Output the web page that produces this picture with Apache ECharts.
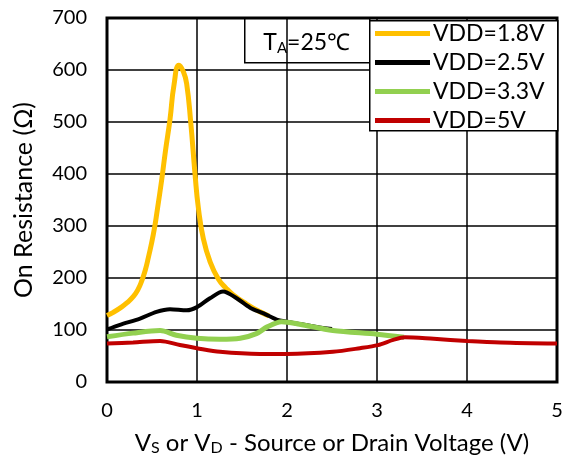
<!DOCTYPE html>
<html>
<head>
<meta charset="utf-8">
<script src="https://cdn.jsdelivr.net/npm/echarts@6/dist/echarts.min.js"></script>
<style>
html,body{margin:0;padding:0;background:#fff;}
#chart{width:569px;height:455px;}
</style>
</head>
<body>
<div id="chart"></div>
<script>
// Data
var seriesNames = ['VDD=1.8V', 'VDD=2.5V', 'VDD=3.3V', 'VDD=5V'];
var xTicks = [0, 1, 2, 3, 4, 5];
var yTicks = [0, 100, 200, 300, 400, 500, 600, 700];

var v18 = [0, 0.07, 0.144, 0.22, 0.296, 0.345, 0.385, 0.425, 0.459, 0.515, 0.559, 0.607, 0.65, 0.70, 0.745, 0.80, 0.85, 0.885, 0.93, 0.978, 1.015, 1.07, 1.144, 1.237, 1.32, 1.40, 1.55, 1.70, 1.80];
var r18 = [128, 134, 142, 152, 165, 178, 194, 215, 239, 284, 331, 388, 445, 505, 572, 609, 596, 574, 500, 400, 335, 276, 232, 198, 181, 168, 150, 135, 127];

var v25 = [0, 0.144, 0.367, 0.55, 0.70, 0.885, 1.0, 1.144, 1.29, 1.44, 1.59, 1.74, 1.885, 2.0, 2.33, 2.5];
var r25 = [101, 110, 122, 135, 140, 138, 144, 161, 174, 161, 143, 132, 120, 116, 106, 102];

var v33 = [0, 0.29, 0.59, 0.77, 1.0, 1.256, 1.48, 1.66, 1.78, 1.94, 2.14, 2.51, 3.0, 3.3];
var r33 = [87, 94, 99, 90, 84, 82, 84, 93, 106, 116, 111, 99, 92, 86];

var v50 = [0, 0.29, 0.59, 0.81, 1.0, 1.256, 1.70, 2.0, 2.51, 2.81, 3.01, 3.18, 3.31, 3.63, 4.0, 4.37, 5.0];
var r50 = [74, 76, 79, 71, 65, 58, 54, 54, 58, 65, 71, 81, 86, 83, 79, 76, 74];

function pairs(xs, ys) { return xs.map(function (x, i) { return [x, ys[i]]; }); }

var colors = ['#FFC000', '#000000', '#92D050', '#C00000'];
var widths = [5, 4, 5, 4];
var smooths = [0.5, 0.3, 0.3, 0.3];
var dataSets = [pairs(v18, r18), pairs(v25, r25), pairs(v33, r33), pairs(v50, r50)];

var FONT = 'Lato';
var chart = echarts.init(document.getElementById('chart'), null, {renderer: 'canvas'});

var option = {
  animation: false,
  backgroundColor: '#ffffff',
  textStyle: {fontFamily: FONT, color: '#000'},
  grid: {left: 107, right: 12, top: 18, bottom: 73, show: true, borderColor: '#000', borderWidth: 3,
    backgroundColor: 'transparent', containLabel: false, outerBoundsMode: 'none'},
  xAxis: {
    type: 'value', min: xTicks[0], max: xTicks[xTicks.length - 1], interval: 1,
    axisLine: {show: false}, axisTick: {show: false},
    splitLine: {show: true, lineStyle: {color: '#000', width: 1.5}},
    axisLabel: {fontFamily: FONT, fontSize: 20, color: '#000', margin: 19},
    name: 'V{sub|S} or V{sub|D} - Source or Drain Voltage (V)',
    nameLocation: 'middle', nameGap: 48,
    nameTextStyle: {fontFamily: FONT, fontSize: 24, color: '#000',
      rich: {sub: {fontFamily: FONT, fontSize: 16, color: '#000', padding: [10, 0, 0, 0]}}}
  },
  yAxis: {
    type: 'value', min: yTicks[0], max: yTicks[yTicks.length - 1], interval: 100,
    axisLine: {show: false}, axisTick: {show: false},
    splitLine: {show: true, lineStyle: {color: '#000', width: 1.5}},
    axisLabel: {fontFamily: FONT, fontSize: 20, color: '#000', margin: 20},
    name: 'On Resistance (Ω)', nameLocation: 'middle', nameGap: 71, nameRotate: 90,
    nameTextStyle: {fontFamily: FONT, fontSize: 25, color: '#000'}
  },
  legend: {
    orient: 'vertical', left: 369, top: 20,
    padding: [2, 4, 2, 6], itemGap: 6,
    itemWidth: 55, itemHeight: 5, icon: 'rect',
    textStyle: {fontFamily: FONT, fontSize: 23, color: '#000', lineHeight: 22, padding: [0, 0, 0, -2]},
    data: seriesNames,
    z: 10
  },
  graphic: [{
    type: 'rect', left: 369, top: 20, z: 5,
    shape: {x: 0, y: 0, width: 188, height: 110},
    style: {fill: '#fff', stroke: '#000', lineWidth: 1.5}
  }, {
    type: 'group', left: 244, top: 18, z: 5,
    children: [
      {type: 'rect', shape: {x: 0, y: 0, width: 125, height: 44}, style: {fill: '#fff', stroke: '#000', lineWidth: 1.5}},
      {type: 'text', x: 62, y: 24, style: {
        text: 'T{sub|A}=25℃', align: 'center', verticalAlign: 'middle',
        font: '23px Lato', fill: '#000',
        rich: {sub: {fontFamily: FONT, fontSize: 15, fill: '#000', padding: [10, 0, 0, 0]}}
      }}
    ]
  }],
  series: seriesNames.map(function (n, i) {
    return {
      name: n, type: 'line', data: dataSets[i], smooth: smooths[i], showSymbol: false, symbol: 'none',
      lineStyle: {color: colors[i], width: widths[i]}, itemStyle: {color: colors[i]}, z: 2 + i
    };
  })
};
chart.setOption(option);
</script>
</body>
</html>
